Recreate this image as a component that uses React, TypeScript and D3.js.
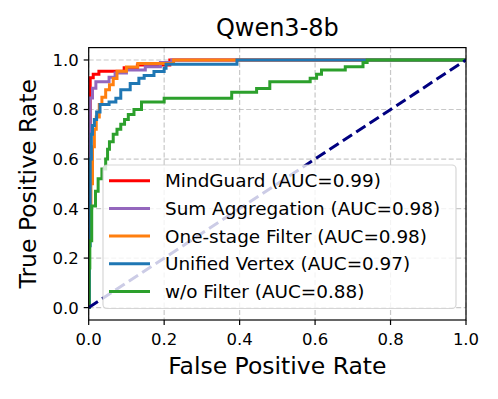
import React, { useEffect, useRef } from "react";
import * as d3 from "d3";

// ROC curve points: [fpr, tpr], drawn as step-after
const mindGuard: [number, number][] = [
    [0, 0], [0.002, 0.6], [0.004, 0.928], [0.012, 0.942], [0.027, 0.955],
    [0.094, 0.969], [0.129, 0.98], [0.215, 1], [1, 1],
];
const sumAggregation: [number, number][] = [
    [0, 0], [0.002, 0.6], [0.004, 0.846], [0.01, 0.886], [0.019, 0.912],
    [0.054, 0.93], [0.07, 0.947], [0.1, 0.96], [0.15, 0.973], [0.19, 0.99],
    [0.22, 1], [1, 1],
];
const oneStageFilter: [number, number][] = [
    [0, 0], [0.002, 0.3], [0.006, 0.5], [0.01, 0.65], [0.015, 0.72],
    [0.02, 0.77], [0.028, 0.82], [0.035, 0.85], [0.045, 0.88], [0.055, 0.9],
    [0.065, 0.925], [0.075, 0.955], [0.1, 0.972], [0.13, 0.986], [0.225, 1],
    [1, 1],
];
const unifiedVertex: [number, number][] = [
    [0, 0], [0.002, 0.25], [0.004, 0.6], [0.007, 0.7], [0.01, 0.735],
    [0.015, 0.76], [0.021, 0.79], [0.03, 0.82], [0.054, 0.83], [0.072, 0.845],
    [0.085, 0.88], [0.11, 0.905], [0.133, 0.926], [0.147, 0.937],
    [0.173, 0.953], [0.2, 0.967], [0.205, 0.983], [0.393, 1], [1, 1],
];
const withoutFilter: [number, number][] = [
    [0, 0], [0.001, 0.16], [0.003, 0.27], [0.008, 0.41], [0.018, 0.47],
    [0.025, 0.52], [0.035, 0.56], [0.045, 0.6], [0.05, 0.64], [0.055, 0.67],
    [0.065, 0.7], [0.075, 0.72], [0.085, 0.74], [0.095, 0.76], [0.105, 0.78],
    [0.12, 0.8], [0.14, 0.83], [0.2, 0.845], [0.379, 0.87], [0.445, 0.885],
    [0.48, 0.912], [0.587, 0.926], [0.604, 0.942], [0.617, 0.96],
    [0.68, 0.973], [0.727, 0.99], [0.738, 1], [1, 1],
];

const seriesNames = [
    "MindGuard (AUC=0.99)",
    "Sum Aggregation (AUC=0.98)",
    "One-stage Filter (AUC=0.98)",
    "Unified Vertex (AUC=0.97)",
    "w/o Filter (AUC=0.88)",
];
const seriesData = [mindGuard, sumAggregation, oneStageFilter, unifiedVertex, withoutFilter];
const seriesColors = ["#ff0000", "#9467bd", "#ff7f0e", "#1f77b4", "#2ca02c"];
const tickValues = [0, 0.2, 0.4, 0.6, 0.8, 1.0];

const App = () => {
    const ref = useRef<SVGSVGElement>(null);

    useEffect(() => {
        const svg = d3.select(ref.current);
        svg.selectAll("*").remove();

        const width = 498;
        const height = 399;
        const font = "DejaVu Sans";
        const plot = { left: 88.7, right: 466, top: 47.6, bottom: 320 };

        const x = d3.scaleLinear().domain([0, 1]).range([plot.left, plot.right]);
        const y = d3.scaleLinear().domain([-0.05, 1.05]).range([plot.bottom, plot.top]);

        svg.attr("width", width).attr("height", height);
        svg.append("rect").attr("width", width).attr("height", height).attr("fill", "white");

        // grid
        const grid = svg.append("g")
            .attr("stroke", "#b0b0b0")
            .attr("stroke-opacity", 0.7)
            .attr("stroke-width", 1.2)
            .attr("stroke-dasharray", "5,2.5");
        grid.selectAll("line.gx").data(tickValues).join("line")
            .attr("x1", (d) => x(d)).attr("x2", (d) => x(d))
            .attr("y1", plot.top).attr("y2", plot.bottom);
        grid.selectAll("line.gy").data(tickValues).join("line")
            .attr("class", "gy")
            .attr("x1", plot.left).attr("x2", plot.right)
            .attr("y1", (d) => y(d)).attr("y2", (d) => y(d));

        // clip
        svg.append("clipPath").attr("id", "plotclip")
            .append("rect")
            .attr("x", plot.left).attr("y", plot.top)
            .attr("width", plot.right - plot.left).attr("height", plot.bottom - plot.top);

        const line = d3.line<[number, number]>()
            .x((d) => x(d[0]))
            .y((d) => y(d[1]))
            .curve(d3.curveStepAfter);

        const curves = svg.append("g").attr("clip-path", "url(#plotclip)");
        seriesData.forEach((data, i) => {
            curves.append("path")
                .attr("d", line(data))
                .attr("fill", "none")
                .attr("stroke", seriesColors[i])
                .attr("stroke-width", 3)
                .attr("stroke-linejoin", "miter");
        });

        // chance diagonal
        curves.append("path")
            .attr("d", d3.line<[number, number]>().x((d) => x(d[0])).y((d) => y(d[1]))([[0, 0], [1, 1]]))
            .attr("fill", "none")
            .attr("stroke", "#000080")
            .attr("stroke-width", 3)
            .attr("stroke-dasharray", "11,5");

        // frame
        svg.append("rect")
            .attr("x", plot.left).attr("y", plot.top)
            .attr("width", plot.right - plot.left).attr("height", plot.bottom - plot.top)
            .attr("fill", "none").attr("stroke", "black").attr("stroke-width", 1.2);

        // x axis
        const xAxis = svg.append("g");
        tickValues.forEach((t) => {
            xAxis.append("line")
                .attr("x1", x(t)).attr("x2", x(t))
                .attr("y1", plot.bottom).attr("y2", plot.bottom + 5)
                .attr("stroke", "black").attr("stroke-width", 1.2);
            xAxis.append("text")
                .attr("x", x(t)).attr("y", plot.bottom + 25)
                .attr("text-anchor", "middle")
                .attr("font-family", font).attr("font-size", 16.5)
                .text(t.toFixed(1));
        });

        // y axis
        const yAxis = svg.append("g");
        tickValues.forEach((t) => {
            yAxis.append("line")
                .attr("x1", plot.left - 5).attr("x2", plot.left)
                .attr("y1", y(t)).attr("y2", y(t))
                .attr("stroke", "black").attr("stroke-width", 1.2);
            yAxis.append("text")
                .attr("x", plot.left - 10).attr("y", y(t))
                .attr("dy", "0.36em")
                .attr("text-anchor", "end")
                .attr("font-family", font).attr("font-size", 16.5)
                .text(t.toFixed(1));
        });

        // labels
        const cx = (plot.left + plot.right) / 2;
        svg.append("text")
            .attr("x", cx).attr("y", 36)
            .attr("text-anchor", "middle")
            .attr("font-family", font).attr("font-size", 24)
            .text("Qwen3-8b");
        svg.append("text")
            .attr("x", cx).attr("y", 374)
            .attr("text-anchor", "middle")
            .attr("font-family", font).attr("font-size", 23.5)
            .text("False Positive Rate");
        svg.append("text")
            .attr("transform", `translate(36,${(plot.top + plot.bottom) / 2}) rotate(-90)`)
            .attr("text-anchor", "middle")
            .attr("font-family", font).attr("font-size", 23.5)
            .text("True Positive Rate");

        // legend
        const legend = svg.append("g");
        legend.append("rect")
            .attr("x", 103).attr("y", 165)
            .attr("width", 353).attr("height", 143.5)
            .attr("rx", 4)
            .attr("fill", "white").attr("fill-opacity", 0.8)
            .attr("stroke", "#cccccc").attr("stroke-opacity", 0.8)
            .attr("stroke-width", 1.2);
        seriesNames.forEach((name, i) => {
            const ly = 180.7 + i * 27.7;
            legend.append("line")
                .attr("x1", 109).attr("x2", 150)
                .attr("y1", ly).attr("y2", ly)
                .attr("stroke", seriesColors[i]).attr("stroke-width", 3);
            legend.append("text")
                .attr("x", 165).attr("y", ly)
                .attr("dy", "0.36em")
                .attr("font-family", font).attr("font-size", 18.4)
                .text(name);
        });
    }, []);

    return <svg ref={ref} style={{ display: "block", position: "absolute", left: 0, top: 0 }}></svg>;
};

export default App;
